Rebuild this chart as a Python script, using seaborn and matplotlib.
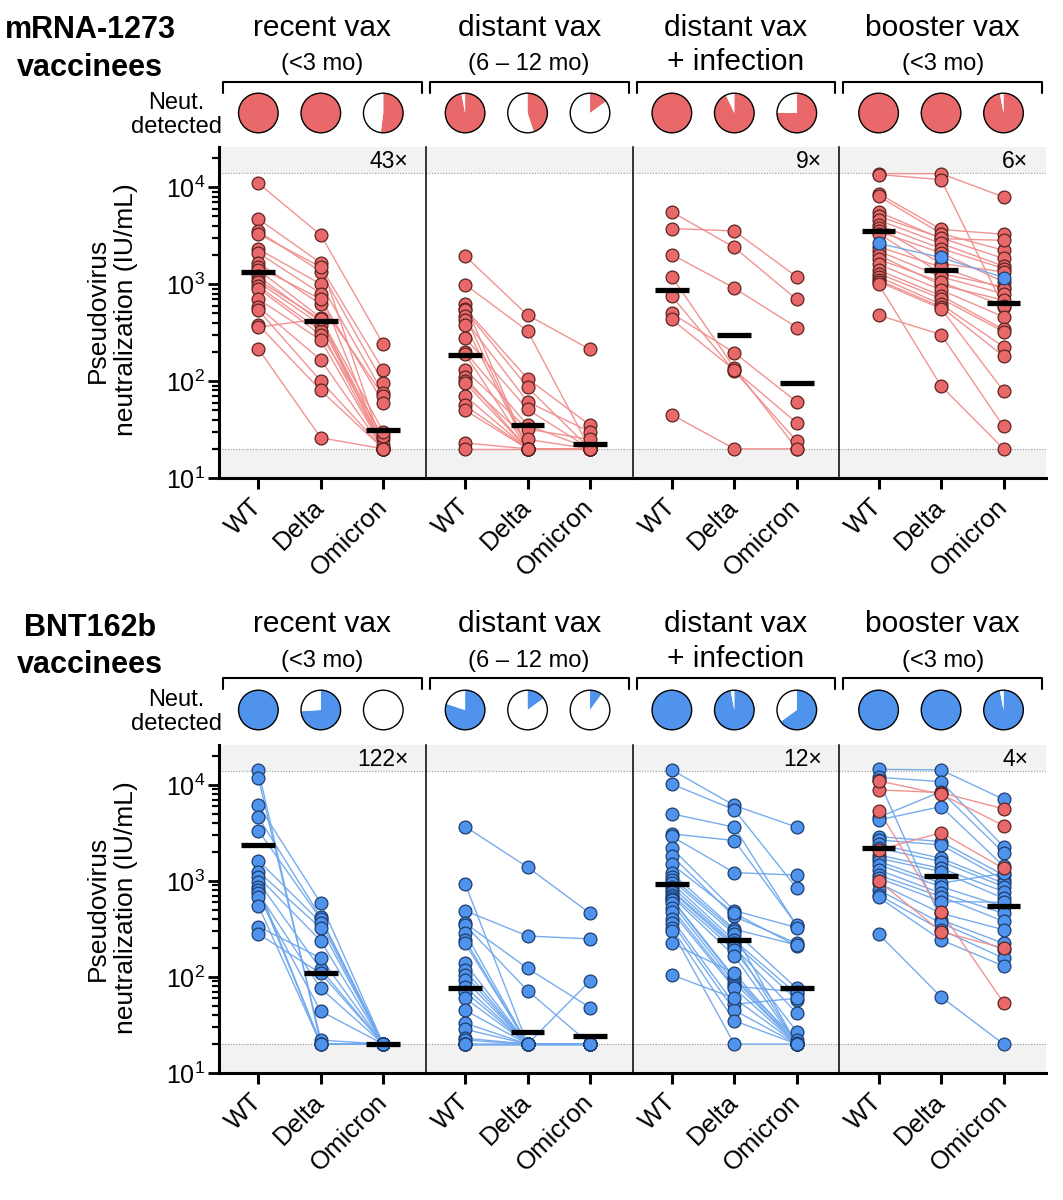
import numpy as np
import pandas as pd
import matplotlib
matplotlib.use("Agg")
import matplotlib.pyplot as plt
import seaborn as sns
from matplotlib.lines import Line2D
from matplotlib.patches import Circle
from matplotlib.ticker import LogLocator, FixedLocator, NullFormatter

# ---------------- data ----------------
variants = ["WT", "Delta", "Omicron"]
titles_1 = ["recent vax", "distant vax", "distant vax", "booster vax"]
titles_2 = ["(<3 mo)", "(6 – 12 mo)", "+ infection", "(<3 mo)"]
row_names = [["mRNA-1273", "vaccinees"], ["BNT162b", "vaccinees"]]
y_tick_vals = [10, 100, 1000, 10000]
y_tick_labels = [r"$\mathregular{10^{1}}$", r"$\mathregular{10^{2}}$",
                 r"$\mathregular{10^{3}}$", r"$\mathregular{10^{4}}$"]
lod_low = 20
lod_high = 14000

# mRNA-1273 vaccinees
m_recent_wt = [11000, 4700, 3500, 3300, 2300, 2100, 1650, 1500, 1400, 1200, 1100, 1050, 950, 900, 700, 580, 540, 380, 360, 215]
m_recent_delta = [3200, 1650, 1350, 1500, 1000, 800, 620, 700, 450, 410, 430, 380, 330, 300, 265, 165, 100, 80, 440, 26]
m_recent_omi = [240, 20, 96, 130, 75, 20, 70, 60, 20, 25, 20, 22, 20, 27, 20, 20, 20, 20, 30, 20]

m_distant_wt = [1950, 990, 620, 560, 540, 470, 430, 380, 280, 200, 190, 130, 110, 100, 96, 70, 56, 50, 23, 20]
m_distant_delta = [480, 330, 20, 106, 86, 20, 61, 20, 51, 35, 20, 32, 20, 25, 20, 20, 20, 20, 20, 20]
m_distant_omi = [212, 20, 20, 35, 20, 20, 30, 20, 20, 20, 20, 25, 20, 20, 20, 20, 20, 20, 20, 20]

m_distinf_wt = [5560, 3750, 2020, 1190, 750, 500, 433, 45]
m_distinf_delta = [2390, 3540, 910, 137, 127, 196, 130, 20]
m_distinf_omi = [695, 1190, 357, 20, 24, 61, 37, 20]

m_boost_wt = [13800, 13500, 8600, 8070, 5560, 5020, 4570, 4060, 3840, 3500, 3330, 2630, 2430, 2200, 1990, 1800, 1607, 1400, 1287, 1190, 1100, 1057, 1000, 478]
m_boost_delta = [13800, 12000, 3670, 3330, 2950, 3000, 2630, 2330, 1630, 2100, 1287, 1885, 1500, 1190, 980, 1050, 870, 760, 710, 620, 583, 560, 89, 302]
m_boost_omi = [7940, 583, 3270, 2240, 2830, 1840, 1535, 1450, 1340, 1057, 935, 1170, 890, 795, 684, 600, 460, 341, 323, 226, 181, 79, 20, 34]
m_boost_other_vax = [11]   # individual drawn in BNT colour

m_medians = [[1340, 415, 31], [188, 35, 22.4], [880, 302, 95], [3520, 1390, 641]]
m_pies = [[1.0, 1.0, 0.52], [0.97, 0.45, 0.15], [1.0, 0.93, 0.75], [1.0, 1.0, 0.97]]
m_folds = ["43×", "", "9×", "6×"]

# BNT162b vaccinees
b_recent_wt = [14300, 11750, 6170, 4600, 3340, 1630, 1250, 1100, 980, 870, 800, 745, 687, 553, 334, 280]
b_recent_delta = [20, 22, 586, 418, 400, 368, 321, 237, 120, 20, 20, 76, 44, 20, 157, 109]
b_recent_omi = [20, 20, 20, 20, 20, 20, 20, 20, 20, 20, 20, 20, 20, 20, 20, 20]

b_distant_wt = [3680, 933, 490, 363, 347, 289, 243, 224, 139, 118, 105, 93, 79, 70, 60, 45, 33, 28.5, 23, 22, 20, 20, 20, 20, 20]
b_distant_delta = [1390, 20, 267, 123, 72, 20, 20, 20, 20, 20, 20, 20, 20, 20, 20, 20, 20, 20, 20, 20, 20, 20, 20, 20, 20]
b_distant_omi = [460, 20, 249, 48, 20, 20, 20, 20, 20, 20, 20, 20, 91, 20, 20, 20, 20, 20, 20, 20, 20, 20, 20, 20, 20]

b_distinf_wt = [14300, 10200, 4990, 3090, 2900, 2190, 1820, 1490, 1200, 1090, 1025, 950, 870, 800, 775, 720, 687, 650, 640, 586, 520, 479, 400, 368, 321, 303, 224, 105]
b_distinf_delta = [6100, 5500, 3630, 2630, 1220, 490, 426, 460, 314, 300, 280, 240, 224, 215, 204, 190, 166, 99, 95, 87, 80, 76, 52, 45, 35, 20, 110, 60]
b_distinf_omi = [3630, 840, 340, 347, 1150, 327, 224, 210, 215, 76, 20, 66.5, 58, 20, 42, 27, 20, 22, 20, 20.4, 70, 20, 60, 20, 20, 20, 20, 20]

b_boost_wt = [14500, 12000, 11200, 4580, 4310, 2890, 2670, 2400, 2190, 1860, 1720, 1600, 1470, 1300, 1150, 1070, 947, 806, 714, 675, 280, 8870, 11000, 5400, 2100, 1000]
b_boost_delta = [14300, 10800, 393, 8500, 5940, 2570, 2370, 1720, 1590, 1350, 1250, 947, 870, 745, 687, 610, 460, 363, 310, 243, 62, 8310, 8000, 479, 3180, 296]
b_boost_omi = [7080, 2280, 224, 1970, 1430, 1150, 1025, 947, 870, 775, 660, 1200, 540, 460, 380, 600, 310, 191, 157, 130, 20, 5620, 3770, 54, 1350, 200]
b_boost_other_vax = [21, 22, 23, 24, 25]   # individuals drawn in mRNA-1273 colour

b_medians = [[2370, 109, 20], [76, 27, 24], [933, 243, 76], [2190, 1135, 553]]
b_pies = [[1.0, 0.74, 0.0], [0.80, 0.15, 0.10], [1.0, 0.97, 0.65], [1.0, 1.0, 0.97]]
b_folds = ["122×", "", "12×", "4×"]

# ---------------- style ----------------
sns.set_style("white")
plt.rcParams["font.family"] = ["Liberation Sans", "DejaVu Sans"]
plt.rcParams["mathtext.fontset"] = "custom"
plt.rcParams["mathtext.rm"] = "Liberation Sans"
plt.rcParams["text.color"] = "black"
plt.rcParams["axes.labelcolor"] = "black"
plt.rcParams["xtick.color"] = "black"
plt.rcParams["ytick.color"] = "black"

fill = {"m": "#E9696A", "b": "#4F93EC"}
edge = {"m": "#5a2320", "b": "#1c3d6e"}
linec = {"m": "#F08E8C", "b": "#6FA8EE"}

W, H = 1063, 1200
fig = plt.figure(figsize=(W / 100, H / 100), dpi=100)
X0, X1 = 219, 1046
PW = (X1 - X0) / 4
ROW_TOP = [147, 745]
ROW_BOT = [478, 1073]
XLIM = (-0.63, 2.68)
YLIM = (10, 26000)


def fx(x):
    return x / W


def fy(y):
    return 1 - y / H


rows = [
    dict(base="m", other="b",
         panels=[(m_recent_wt, m_recent_delta, m_recent_omi, []),
                 (m_distant_wt, m_distant_delta, m_distant_omi, []),
                 (m_distinf_wt, m_distinf_delta, m_distinf_omi, []),
                 (m_boost_wt, m_boost_delta, m_boost_omi, m_boost_other_vax)],
         medians=m_medians, pies=m_pies, folds=m_folds,
         name=row_names[0], title_y=36, sub_y=70, plus_y=70, bracket_y=82, pie_y=113,
         neut_y=(103, 127), name_y=(38, 76), ylab_y=310),
    dict(base="b", other="m",
         panels=[(b_recent_wt, b_recent_delta, b_recent_omi, []),
                 (b_distant_wt, b_distant_delta, b_distant_omi, []),
                 (b_distinf_wt, b_distinf_delta, b_distinf_omi, []),
                 (b_boost_wt, b_boost_delta, b_boost_omi, b_boost_other_vax)],
         medians=b_medians, pies=b_pies, folds=b_folds,
         name=row_names[1], title_y=632, sub_y=667, plus_y=667, bracket_y=678, pie_y=710,
         neut_y=(700, 724), name_y=(636, 673), ylab_y=908),
]

for r, row in enumerate(rows):
    top, bot = ROW_TOP[r], ROW_BOT[r]
    for p, (wt, de, om, others) in enumerate(row["panels"]):
        left = X0 + p * PW
        ax = fig.add_axes([fx(left), fy(bot), PW / W, (bot - top) / H])
        recs = []
        for i in range(len(wt)):
            vax = row["other"] if i in others else row["base"]
            for j, vals in enumerate([wt, de, om]):
                recs.append(dict(id=i, pos=j, value=vals[i], vax=vax))
        df = pd.DataFrame(recs)

        ax.set_yscale("log")
        ax.set_ylim(*YLIM)
        ax.set_xlim(*XLIM)
        ax.axhspan(lod_high, 1e6, color="#f2f2f2", zorder=0, lw=0)
        ax.axhspan(1, lod_low, color="#f2f2f2", zorder=0, lw=0)
        for yl in (lod_low, lod_high):
            ax.axhline(yl, color="#9a9a9a", lw=0.8, ls=(0, (1, 1.5)), zorder=0.5)

        order = [row["base"], row["other"]]
        for vax in order:
            sub = df[df["vax"] == vax]
            if sub.empty:
                continue
            sns.lineplot(data=sub, x="pos", y="value", units="id", estimator=None,
                         sort=False, color=linec[vax], lw=1.0, alpha=0.95,
                         ax=ax, legend=False, zorder=1)
        for vax in order:
            sub = df[df["vax"] == vax]
            if sub.empty:
                continue
            sns.scatterplot(data=sub, x="pos", y="value", color=fill[vax],
                            edgecolor=edge[vax], linewidth=0.9, s=85,
                            ax=ax, legend=False, zorder=3)
        med = row["medians"][p]
        ax.hlines(med, [j - 0.27 for j in range(3)], [j + 0.27 for j in range(3)],
                  color="black", lw=3.8, zorder=5)

        if row["folds"][p]:
            ax.text(0.915, 0.955, row["folds"][p], transform=ax.transAxes,
                    ha="right", va="center", fontsize=16.5)

        ax.set_xticks([0, 1, 2])
        ax.set_xticklabels(variants, rotation=45, ha="right", va="center",
                           rotation_mode="anchor", fontsize=18.5)
        ax.tick_params(axis="x", direction="out", length=8, width=2.2, pad=10,
                       bottom=True, color="black", labelcolor="black")
        ax.set_xlabel("")
        ax.set_ylabel("")
        for s in ("top", "right"):
            ax.spines[s].set_visible(False)
        ax.spines["bottom"].set_linewidth(2.2)
        ax.spines["bottom"].set_color("black")
        ax.spines["left"].set_color("black")
        if p == 0:
            ax.spines["left"].set_linewidth(2.2)
            ax.yaxis.set_major_locator(FixedLocator(y_tick_vals))
            ax.set_yticklabels(y_tick_labels, fontsize=18)
            ax.yaxis.set_minor_locator(LogLocator(base=10, subs=np.arange(2, 10)))
            ax.yaxis.set_minor_formatter(NullFormatter())
            ax.tick_params(axis="y", which="major", direction="out", length=8,
                           width=2.0, left=True, color="black", labelcolor="black", pad=2)
            ax.tick_params(axis="y", which="minor", direction="out", length=5,
                           width=1.6, left=True, color="black")
        else:
            ax.spines["left"].set_linewidth(1.1)
            ax.yaxis.set_minor_formatter(NullFormatter())
            ax.tick_params(axis="y", which="both", left=False, labelleft=False)
        ax.set_ylim(*YLIM)
        ax.set_xlim(*XLIM)

        # titles
        cx = left + PW / 2
        fig.text(fx(cx), fy(row["title_y"]), titles_1[p], ha="center",
                 va="baseline", fontsize=21.5, color="black")
        if titles_2[p].startswith("+"):
            fig.text(fx(cx), fy(row["plus_y"]), titles_2[p], ha="center",
                     va="baseline", fontsize=21.5, color="black")
        else:
            fig.text(fx(cx), fy(row["sub_y"]), titles_2[p], ha="center",
                     va="baseline", fontsize=17, color="black")
        # bracket
        by = row["bracket_y"]
        bx0, bx1 = left + 4, left + PW - 4
        fig.add_artist(Line2D([fx(bx0), fx(bx0), fx(bx1), fx(bx1)],
                              [fy(by + 11), fy(by), fy(by), fy(by + 11)],
                              color="black", lw=1.5, transform=fig.transFigure))
        # pies
        for j in range(3):
            px = ax.transData.transform((j, 100))[0]
            d = 42
            pax = fig.add_axes([fx(px - d / 2), fy(row["pie_y"] + d / 2), d / W, d / H])
            frac = row["pies"][p][j]
            pax.pie([frac, 1 - frac], colors=[fill[row["base"]], "white"],
                    startangle=90, counterclock=False,
                    wedgeprops=dict(edgecolor="none", linewidth=0))
            pax.add_patch(Circle((0, 0), 1.0, facecolor="none", edgecolor="black",
                                 lw=1.0))
            pax.set_xlim(-1.06, 1.06)
            pax.set_ylim(-1.06, 1.06)
            pax.set_aspect("equal")
            pax.axis("off")

    # row labels
    fig.text(fx(90), fy(row["name_y"][0]), row["name"][0], ha="center",
             va="baseline", fontsize=22, fontweight="bold", color="black")
    fig.text(fx(90), fy(row["name_y"][1]), row["name"][1], ha="center",
             va="baseline", fontsize=22, fontweight="bold", color="black")
    fig.text(fx(176), fy(row["neut_y"][0]), "Neut.", ha="center", va="center",
             fontsize=17, color="black")
    fig.text(fx(176), fy(row["neut_y"][1]), "detected", ha="center", va="center",
             fontsize=17, color="black")
    fig.text(fx(112), fy(row["ylab_y"]), "Pseudovirus\nneutralization (IU/mL)",
             rotation=90, ha="center", va="center", fontsize=19, linespacing=1.25,
             multialignment="center", color="black")

fig.savefig("out.png", dpi=100)
